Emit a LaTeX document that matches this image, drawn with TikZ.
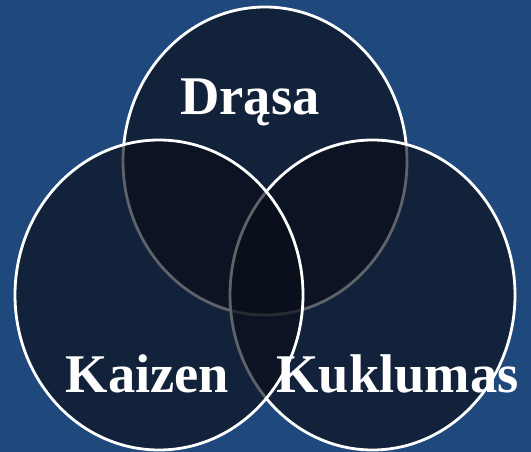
\documentclass[tikz,border=0pt]{standalone}
\usepackage{fontspec}
\setmainfont{Liberation Serif}
\definecolor{bgblue}{RGB}{31,72,124}
\definecolor{setfill}{RGB}{10,14,24}
\tikzset{
  setring/.style={draw=white, line width=2.8pt, fill=setfill, fill opacity=0.65, draw opacity=1},
  setlabel/.style={text=white, font=\fontsize{54.5}{60}\selectfont\bfseries, anchor=base, inner sep=0pt}
}
\begin{document}
\begin{tikzpicture}[x=1pt,y=-1pt]
\fill[bgblue] (0,0) rectangle (531,452);
\useasboundingbox (0,0) rectangle (531,452);
\path[setring] (265,161) ellipse [x radius=142, y radius=154];
\path[setring] (372.5,295) ellipse [x radius=142.5, y radius=155];
\path[setring] (159,295) ellipse [x radius=144, y radius=155];
\node[setlabel] (drasa) at (250,115) {Drąsa};
\node[setlabel] (kaizen) at (147.5,392) {Kaizen};
\node[setlabel] (kuklumas) at (397.5,392) {Kuklumas};
\end{tikzpicture}
\end{document}
